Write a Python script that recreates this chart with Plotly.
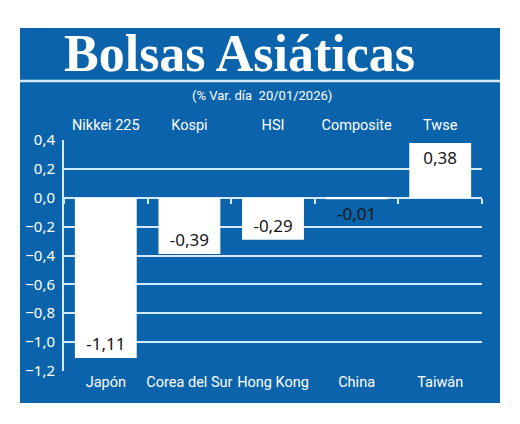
import plotly.graph_objects as go

# Data
paises = ["Japón", "Corea del Sur", "Hong Kong", "China", "Taiwán"]
indices = ["Nikkei 225", "Kospi", "HSI", "Composite", "Twse"]
variacion = [-1.11, -0.39, -0.29, -0.01, 0.38]

azul = "#0b64ab"
linea = "#d4eaf8"
etiqueta = "Roboto, sans-serif"

fig = go.Figure()

# White bars with the value at the far end of each bar
fig.add_trace(go.Bar(
    x=paises, y=variacion,
    marker=dict(color="white", line=dict(width=0)),
    width=0.74,
    texttemplate="%{y:.2f}",
    textposition="auto",
    insidetextanchor="end",
    textangle=0,
    constraintext="none",
    cliponaxis=False,
    textfont=dict(family="Noto Sans, sans-serif", size=17, color="#151515"),
    hoverinfo="skip",
))

# Invisible helpers so the top labels and zero-line ticks get drawn
fig.add_trace(go.Scatter(x=indices, y=variacion, xaxis="x2", mode="markers",
                         marker=dict(opacity=0), hoverinfo="skip"))
fig.add_trace(go.Scatter(x=paises, y=variacion, xaxis="x3", mode="markers",
                         marker=dict(opacity=0), hoverinfo="skip"))

# Blue panel behind everything, and the rule under the title
fig.add_shape(type="rect", xref="paper", yref="paper",
              x0=-0.1053, x1=1.0431, y0=-0.1385, y1=1.4848,
              fillcolor=azul, line=dict(width=0), layer="below")
fig.add_shape(type="line", xref="paper", yref="paper",
              x0=-0.1053, x1=1.0431, y0=1.2554, y1=1.2554,
              line=dict(color=linea, width=2.5))

fig.add_annotation(text="<b>Bolsas Asiáticas</b>", xref="paper", yref="paper",
                   x=0.421, y=1.375, xanchor="center", yanchor="middle", showarrow=False,
                   font=dict(family="Liberation Serif, serif", size=52, color="white"))
fig.add_annotation(text="(% Var. día  20/01/2026)", xref="paper", yref="paper",
                   x=0.4737, y=1.1948, xanchor="center", yanchor="middle", showarrow=False,
                   font=dict(family=etiqueta, size=13, color="white"))

# page body adds an 8px offset, so the figure is 8px smaller and shifted
fig.update_layout(
    width=512, height=416,
    margin=dict(l=56, r=38, t=132, b=53, autoexpand=False),
    paper_bgcolor="white",
    plot_bgcolor=azul,
    showlegend=False,
    separators=",.",
    xaxis=dict(
        type="category", range=[-0.5, 4.5], automargin=False, tickangle=0,
        showgrid=False, zeroline=False, showline=False, ticks="",
        tickfont=dict(family=etiqueta, size=14.5, color="white"),
    ),
    xaxis2=dict(
        type="category", range=[-0.5, 4.5], overlaying="x", side="top", anchor="y",
        automargin=False, tickangle=0,
        showgrid=False, zeroline=False, showline=False,
        ticks="outside", ticklen=3, tickcolor="rgba(0,0,0,0)",
        tickfont=dict(family=etiqueta, size=14.5, color="white"),
    ),
    xaxis3=dict(
        type="category", range=[-0.5, 4.5], overlaying="x", anchor="free", position=0.75,
        automargin=False,
        showgrid=False, zeroline=False, showline=False, showticklabels=False,
        ticks="outside", tickson="boundaries", ticklen=5, tickwidth=2, tickcolor=linea,
    ),
    yaxis=dict(
        range=[-1.2004, 0.4004], dtick=0.2, tick0=0, tickformat=".1f",
        automargin=False,
        showgrid=True, gridcolor=linea, gridwidth=2,
        zeroline=True, zerolinecolor=linea, zerolinewidth=2,
        showline=True, linecolor=linea, linewidth=2,
        ticks="outside", ticklen=4, tickcolor="rgba(0,0,0,0)",
        tickfont=dict(family="Noto Sans, sans-serif", size=15, color="white"),
    ),
)

fig.write_html("out.html")
